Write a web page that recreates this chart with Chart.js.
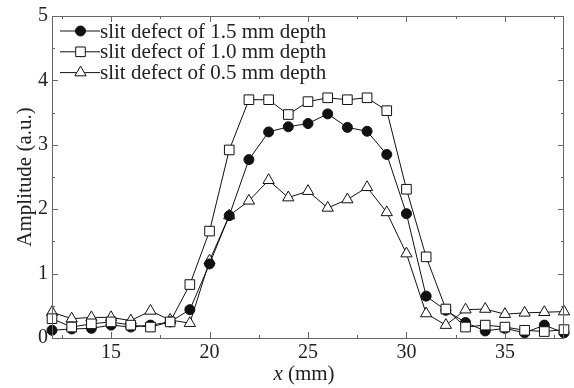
<!DOCTYPE html>
<html>
<head>
<meta charset="utf-8">
<script src="https://cdn.jsdelivr.net/npm/chart.js@4"></script>
<style>
  html, body { margin: 0; padding: 0; background: #fff; }
</style>
</head>
<body>
<canvas id="chart" width="574" height="388"></canvas>
<script>
// x position along the specimen (mm)
const positions = [12, 13, 14, 15, 16, 17, 18, 19, 20, 21, 22, 23, 24, 25, 26, 27, 28, 29, 30, 31, 32, 33, 34, 35, 36, 37, 38];
const depth15 = [0.12, 0.14, 0.15, 0.2, 0.17, 0.2, 0.25, 0.44, 1.15, 1.9, 2.77, 3.2, 3.28, 3.33, 3.48, 3.27, 3.21, 2.85, 1.93, 0.65, 0.43, 0.24, 0.11, 0.15, 0.08, 0.2, 0.08];
const depth10 = [0.3, 0.17, 0.22, 0.25, 0.2, 0.17, 0.25, 0.83, 1.66, 2.92, 3.7, 3.7, 3.47, 3.67, 3.73, 3.7, 3.73, 3.53, 2.31, 1.26, 0.45, 0.17, 0.2, 0.17, 0.12, 0.1, 0.13];
const depth05 = [0.4, 0.3, 0.32, 0.32, 0.27, 0.42, 0.28, 0.23, 1.2, 1.9, 2.13, 2.45, 2.18, 2.28, 2.02, 2.15, 2.34, 1.95, 1.31, 0.38, 0.2, 0.44, 0.45, 0.37, 0.39, 0.4, 0.41];
const seriesNames = ['slit defect of 1.5 mm depth', 'slit defect of 1.0 mm depth', 'slit defect of 0.5 mm depth'];
const xTicks = [15, 20, 25, 30, 35];
const yTicks = [0, 1, 2, 3, 4, 5];

const FONT = '"Liberation Serif", "DejaVu Serif", serif';
const INK = '#111';
const AXIS = '#666';

const toPoints = (vals) => vals.map((v, i) => ({ x: positions[i], y: v }));

function marker(ctx, style, x, y, r) {
    ctx.beginPath();
    if (style === 'circle') {
        ctx.arc(x, y, r, 0, Math.PI * 2);
    } else if (style === 'rect') {
        const s = Math.SQRT1_2 * r;
        ctx.rect(x - s, y - s, 2 * s, 2 * s);
    } else {
        let rad = 0;
        for (let k = 0; k < 3; k++) {
            const px = x + Math.sin(rad) * r, py = y - Math.cos(rad) * r;
            k === 0 ? ctx.moveTo(px, py) : ctx.lineTo(px, py);
            rad += Math.PI * 2 / 3;
        }
        ctx.closePath();
    }
    ctx.fill();
    ctx.stroke();
}

const frame = {
    id: 'frame',
    afterDraw(chart) {
        const ctx = chart.ctx;
        const a = chart.chartArea;
        const xs = chart.scales.x, ys = chart.scales.y;
        ctx.save();
        ctx.strokeStyle = AXIS;
        ctx.lineWidth = 1;
        ctx.strokeRect(a.left + 0.5, a.top + 0.5, a.right - a.left - 1, a.bottom - a.top);

        // inward ticks on all four sides
        ctx.beginPath();
        for (let v = 12.5; v < 38; v += 2.5) {
            const p = Math.round(xs.getPixelForValue(v)) + 0.5;
            const len = (v % 5 === 0) ? 6 : 3;
            ctx.moveTo(p, a.bottom); ctx.lineTo(p, a.bottom - len);
            ctx.moveTo(p, a.top); ctx.lineTo(p, a.top + len);
        }
        for (let v = 0.5; v < 5; v += 0.5) {
            const p = Math.round(ys.getPixelForValue(v)) + 0.5;
            const len = (v % 1 === 0) ? 6 : 3;
            ctx.moveTo(a.left, p); ctx.lineTo(a.left + len, p);
            ctx.moveTo(a.right, p); ctx.lineTo(a.right - len, p);
        }
        ctx.stroke();

        // axis titles
        ctx.fillStyle = '#222';
        ctx.textBaseline = 'middle';
        ctx.font = 'italic 21px ' + FONT;
        const xw = ctx.measureText('x').width;
        ctx.font = '21px ' + FONT;
        const rest = ' (mm)';
        const rw = ctx.measureText(rest).width;
        const sx = 304 - (xw + rw) / 2;
        ctx.textAlign = 'left';
        ctx.font = 'italic 21px ' + FONT;
        ctx.fillText('x', sx, 374);
        ctx.font = '21px ' + FONT;
        ctx.fillText(rest, sx + xw, 374);

        ctx.save();
        ctx.translate(25, (a.top + a.bottom) / 2);
        ctx.rotate(-Math.PI / 2);
        ctx.textAlign = 'center';
        ctx.fillText('Amplitude (a.u.)', 0, 0);
        ctx.restore();

        // legend: line + marker + text
        ctx.font = '21px ' + FONT;
        ctx.textAlign = 'left';
        chart.data.datasets.forEach((ds, i) => {
            const y = 31 + i * 20.8;
            ctx.strokeStyle = INK;
            ctx.beginPath();
            ctx.moveTo(60, y); ctx.lineTo(100, y);
            ctx.stroke();
            ctx.fillStyle = ds.pointBackgroundColor;
            marker(ctx, ds.pointStyle, 80.5, y, ds.pointRadius);
            ctx.fillStyle = '#222';
            ctx.fillText(seriesNames[i], 100, y + 1);
        });
        ctx.restore();
    }
};

const common = {
    borderColor: INK,
    borderWidth: 1,
    pointBorderColor: INK,
    pointBorderWidth: 1,
    showLine: true,
    clip: false,
    tension: 0
};

new Chart(document.getElementById('chart'), {
    type: 'scatter',
    data: {
        datasets: [
            Object.assign({ label: seriesNames[0], data: toPoints(depth15), pointStyle: 'circle', pointRadius: 5, pointBackgroundColor: INK, order: 2 }, common),
            Object.assign({ label: seriesNames[1], data: toPoints(depth10), pointStyle: 'rect', pointRadius: 6.8, pointBackgroundColor: '#fff', order: 1 }, common),
            Object.assign({ label: seriesNames[2], data: toPoints(depth05), pointStyle: 'triangle', pointRadius: 6.5, pointBackgroundColor: '#fff', order: 3 }, common)
        ]
    },
    options: {
        responsive: false,
        animation: false,
        devicePixelRatio: 1,
        layout: { padding: { top: 10, right: 10, left: 0, bottom: 0 } },
        plugins: { legend: { display: false }, tooltip: { enabled: false } },
        scales: {
            x: {
                type: 'linear',
                min: 12,
                max: 38,
                afterBuildTicks: (s) => { s.ticks = xTicks.map(v => ({ value: v })); },
                afterFit: (s) => { s.height = 50; },
                grid: { display: false, drawTicks: false },
                border: { display: false },
                ticks: { padding: 3, color: '#222', font: { family: FONT, size: 20 } }
            },
            y: {
                min: 0,
                max: 5,
                afterBuildTicks: (s) => { s.ticks = yTicks.map(v => ({ value: v })); },
                afterFit: (s) => { s.width = 52; },
                grid: { display: false, drawTicks: false },
                border: { display: false },
                ticks: { padding: 4, color: '#222', font: { family: FONT, size: 20 } }
            }
        }
    },
    plugins: [frame]
});
</script>
</body>
</html>
